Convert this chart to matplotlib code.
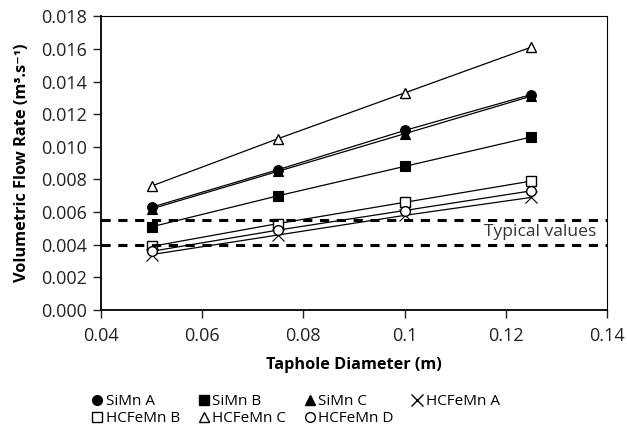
import matplotlib
matplotlib.use("Agg")
import matplotlib.pyplot as plt

plt.rcParams['font.family'] = ['Open Sans', 'DejaVu Sans']

# Taphole diameter (m)
diameter = [0.05, 0.075, 0.1, 0.125]

# Volumetric flow rate (m3/s) per alloy
simn_a = [0.0063, 0.0086, 0.0110, 0.0132]
simn_b = [0.0051, 0.0070, 0.0088, 0.0106]
simn_c = [0.0062, 0.0085, 0.0108, 0.0131]
hcfemn_a = [0.0034, 0.0046, 0.0058, 0.0069]
hcfemn_b = [0.0039, 0.0053, 0.0066, 0.0079]
hcfemn_c = [0.0076, 0.0105, 0.0133, 0.0161]
hcfemn_d = [0.0036, 0.0049, 0.0061, 0.0073]

typical_low = 0.0040
typical_high = 0.0055

series = [
    ("SiMn A", simn_a, "o", "black"),
    ("SiMn B", simn_b, "s", "black"),
    ("SiMn C", simn_c, "^", "black"),
    ("HCFeMn A", hcfemn_a, "x", "black"),
    ("HCFeMn B", hcfemn_b, "s", "white"),
    ("HCFeMn C", hcfemn_c, "^", "white"),
    ("HCFeMn D", hcfemn_d, "o", "white"),
]

fig = plt.figure(figsize=(6.27, 4.38), dpi=100)
ax = fig.add_axes([0.161, 0.292, 0.807, 0.671])

handles = {}
for name, vals, mk, fc in series:
    ms = 8 if mk == "x" else 7
    h, = ax.plot(diameter, vals, color="black", lw=0.9, marker=mk,
                 markersize=ms, markerfacecolor=fc, markeredgecolor="black",
                 markeredgewidth=1.0 if fc == "white" else 0.8, label=name)
    handles[name] = h

ax.axhline(typical_high, color="black", lw=2.2, ls=(0, (3, 2.5)))
ax.axhline(typical_low, color="black", lw=2.2, ls=(0, (3, 2.5)))
ax.text(0.1378, 0.0048, "Typical values", ha="right", va="center",
        fontsize=12.6, color="#333333")

ax.set_xlim(0.04, 0.14)
ax.set_ylim(0.0, 0.018)
ax.set_xticks([0.04, 0.06, 0.08, 0.1, 0.12, 0.14])
ax.set_xticklabels(["0.04", "0.06", "0.08", "0.1", "0.12", "0.14"])
ax.set_yticks([i * 0.002 for i in range(10)])
ax.set_yticklabels([f"{i * 0.002:.3f}" for i in range(10)])
ax.tick_params(direction="out", length=6, width=1, labelsize=13, colors="#222222")
ax.tick_params(axis="x", pad=6)
ax.tick_params(axis="y", pad=4)
ax.spines["left"].set_linewidth(1.3)
ax.spines["bottom"].set_linewidth(1.3)
ax.spines["top"].set_linewidth(0.8)
ax.spines["right"].set_linewidth(0.8)

ax.set_xlabel("Taphole Diameter (m)", fontsize=11.7, fontweight="bold", labelpad=9)
ax.set_ylabel("Volumetric Flow Rate (m³.s⁻¹)", fontsize=11.8, fontweight="bold", labelpad=8)

# legend filled row by row (matplotlib fills columns first)
order = ["SiMn A", "HCFeMn B", "SiMn B", "HCFeMn C", "SiMn C", "HCFeMn D", "HCFeMn A"]
leg_handles = []
for n in order:
    h = handles[n]
    leg_handles.append(plt.Line2D([], [], ls="none", marker=h.get_marker(),
                                  markersize=8 if h.get_marker() == "x" else 7,
                                  markerfacecolor=h.get_markerfacecolor(),
                                  markeredgecolor="black", label=n))
fig.legend(handles=leg_handles, loc="lower left", bbox_to_anchor=(0.125, -0.005),
           ncol=4, frameon=False, fontsize=11, handlelength=0.7,
           handletextpad=0.2, columnspacing=1.2, labelspacing=0.15)

fig.savefig("out.png", dpi=100)
